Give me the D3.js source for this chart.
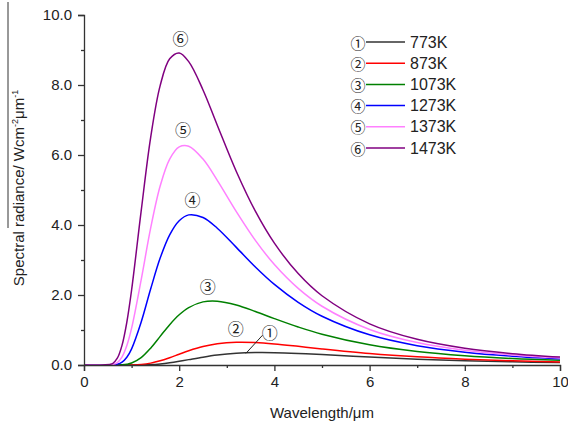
<!DOCTYPE html>
<html>
<head>
<meta charset="utf-8">
<script src="https://cdn.jsdelivr.net/npm/d3@7"></script>
<style>
  body { margin: 0; background: #fff; }
  svg { display: block; font-family: "Liberation Sans", Arial, sans-serif; }
  .axis path, .axis line { stroke: #333; stroke-width: 1.3; }
  .axis text { font-size: 15px; fill: #222; }
</style>
</head>
<body>
<svg id="chart" width="568" height="426"></svg>
<script>
// wavelength samples (µm)
const wavelength = [0, 0.4, 0.6, 0.7, 0.8, 0.9, 1.0, 1.2, 1.4, 1.6, 1.8, 2.0, 2.2, 2.5, 2.8, 3.2, 3.6, 4.0, 4.5, 5, 6, 7, 8, 9, 10];

// spectral radiance (W cm^-2 µm^-1) read per curve
const r773  = [0, 0, 0, 0, 0, 0.0001, 0.0003, 0.0028, 0.0117, 0.0316, 0.0639, 0.1062, 0.1537, 0.2240, 0.2824, 0.3331, 0.3537, 0.3516, 0.3293, 0.2966, 0.2265, 0.1676, 0.1235, 0.0917, 0.0689];
const r873  = [0, 0, 0, 0, 0, 0.0007, 0.0026, 0.0163, 0.0537, 0.1199, 0.2091, 0.3085, 0.4053, 0.5259, 0.6056, 0.6503, 0.6424, 0.6032, 0.5342, 0.4604, 0.3297, 0.2336, 0.1668, 0.1209, 0.0892];
const r1073 = [0, 0, 0, 0.0011, 0.0060, 0.0214, 0.0562, 0.2110, 0.4818, 0.8183, 1.1527, 1.4344, 1.6403, 1.8031, 1.8243, 1.7145, 1.5294, 1.3255, 1.0853, 0.8797, 0.5766, 0.3844, 0.2628, 0.1844, 0.1326];
const r1273 = [0, 0, 0.0032, 0.0217, 0.0835, 0.2228, 0.4619, 1.221, 2.170, 3.055, 3.720, 4.123, 4.289, 4.214, 3.908, 3.360, 2.801, 2.302, 1.791, 1.394, 0.8627, 0.5530, 0.3675, 0.2524, 0.1785];
const r1373 = [0, 0, 0.0125, 0.0702, 0.2338, 0.556, 1.052, 2.425, 3.908, 5.113, 5.884, 6.233, 6.252, 5.883, 5.276, 4.384, 3.562, 2.870, 2.189, 1.679, 1.0164, 0.6419, 0.4220, 0.2875, 0.2021];
const r1473 = [0, 0.0001, 0.0409, 0.1938, 0.569, 1.226, 2.143, 4.388, 6.498, 7.982, 8.748, 8.916, 8.667, 7.859, 6.851, 5.530, 4.395, 3.481, 2.612, 1.978, 1.1755, 0.7332, 0.4777, 0.3233, 0.2260];

const seriesNames = ['773K', '873K', '1073K', '1273K', '1373K', '1473K'];
const seriesMarks = ['①', '②', '③', '④', '⑤', '⑥'];
const seriesColors = ['#333333', '#ff0000', '#008000', '#0000ff', '#ff80ff', '#800080'];
const seriesValues = [r773, r873, r1073, r1273, r1373, r1473];

const xTicks = [0, 2, 4, 6, 8, 10];
const xMinor = [1, 3, 5, 7, 9];
const yTicks = [0, 2, 4, 6, 8, 10];
const yMinor = [1, 3, 5, 7, 9];

// curve tag positions in data units: [wavelength, radiance]
const tagPos = [[3.9, 0.95], [3.19, 1.05], [2.6, 2.25], [2.28, 4.75], [2.08, 6.75], [2.03, 9.35]];

const svg = d3.select('#chart');
const m = { left: 84, right: 560, top: 15, bottom: 365 };

const x = d3.scaleLinear().domain([0, 10]).range([m.left, m.right]);
const y = d3.scaleLinear().domain([0, 10]).range([m.bottom, m.top]);

// curves
const line = d3.line()
  .x((d) => x(d[0]))
  .y((d) => y(Math.max(0, d[1])))
  .curve(d3.curveCatmullRom.alpha(0.5));

svg.append('g')
  .selectAll('path')
  .data(seriesValues)
  .join('path')
  .attr('d', (vals) => line(wavelength.map((w, i) => [w, vals[i]])))
  .attr('fill', 'none')
  .attr('stroke', (d, i) => seriesColors[i])
  .attr('stroke-width', 1.5);

// axes
svg.append('g').attr('class', 'axis')
  .attr('transform', `translate(0,${m.bottom})`)
  .call(d3.axisBottom(x).tickValues(xTicks).tickSize(6).tickPadding(5).tickFormat(d3.format('d')));
svg.append('g').attr('class', 'axis')
  .attr('transform', `translate(0,${m.bottom})`)
  .call(d3.axisBottom(x).tickValues(xMinor).tickSize(3).tickFormat(''))
  .select('.domain').remove();

svg.append('g').attr('class', 'axis')
  .attr('transform', `translate(${m.left},0)`)
  .call(d3.axisLeft(y).tickValues(yTicks).tickSize(6).tickPadding(6).tickFormat(d3.format('.1f')));
svg.append('g').attr('class', 'axis')
  .attr('transform', `translate(${m.left},0)`)
  .call(d3.axisLeft(y).tickValues(yMinor).tickSize(3).tickFormat(''))
  .select('.domain').remove();

svg.selectAll('.axis .domain').attr('stroke-width', 1.6);

// axis titles
svg.append('text')
  .attr('x', (m.left + m.right) / 2)
  .attr('y', 418)
  .attr('text-anchor', 'middle')
  .attr('font-size', 15)
  .attr('fill', '#222')
  .text('Wavelength/μm');

const yt = svg.append('text')
  .attr('transform', 'translate(24,188) rotate(-90)')
  .attr('text-anchor', 'middle')
  .attr('font-size', 15)
  .attr('fill', '#222');
yt.append('tspan').text('Spectral radiance/ Wcm');
yt.append('tspan').attr('dy', -6).attr('font-size', 9).text('-2');
yt.append('tspan').attr('dy', 6).text('μm');
yt.append('tspan').attr('dy', -6).attr('font-size', 9).text('-1');

// overline next to the y title
svg.append('line')
  .attr('x1', 8).attr('x2', 8)
  .attr('y1', 2).attr('y2', 228)
  .attr('stroke', '#333').attr('stroke-width', 1);

// curve tags
const tagFont = '"Noto Sans CJK SC", "DejaVu Sans", sans-serif';
svg.append('g')
  .selectAll('text')
  .data(tagPos)
  .join('text')
  .attr('x', (d) => x(d[0]))
  .attr('y', (d) => y(d[1]))
  .attr('text-anchor', 'middle')
  .attr('dominant-baseline', 'central')
  .attr('font-family', tagFont)
  .attr('font-size', 16)
  .attr('fill', '#222')
  .text((d, i) => seriesMarks[i]);

// leader line from ① tag to its curve
svg.append('line')
  .attr('x1', x(3.75)).attr('y1', y(0.85))
  .attr('x2', x(3.40)).attr('y2', y(0.33))
  .attr('stroke', '#222').attr('stroke-width', 1);

// legend
const legend = svg.append('g').attr('transform', 'translate(358,42)');
const row = legend.selectAll('g')
  .data(seriesNames)
  .join('g')
  .attr('transform', (d, i) => `translate(0,${i * 21.2})`);
row.append('text')
  .attr('text-anchor', 'middle')
  .attr('dominant-baseline', 'central')
  .attr('font-family', tagFont)
  .attr('font-size', 15)
  .attr('fill', '#222')
  .text((d, i) => seriesMarks[i]);
row.append('line')
  .attr('x1', 8).attr('x2', 47)
  .attr('stroke', (d, i) => seriesColors[i])
  .attr('stroke-width', 1.5);
row.append('text')
  .attr('x', 52)
  .attr('dominant-baseline', 'central')
  .attr('font-size', 16)
  .attr('fill', '#222')
  .text((d) => d);
</script>
</body>
</html>
